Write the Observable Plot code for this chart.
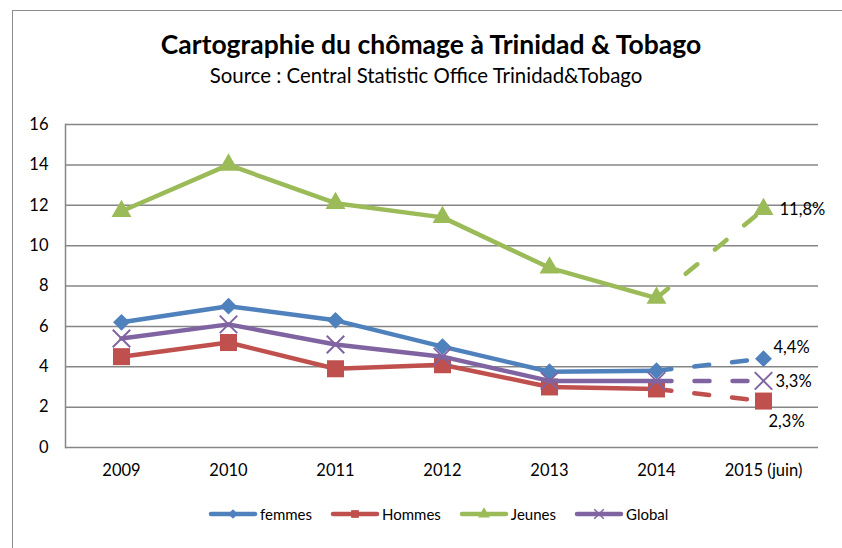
<!DOCTYPE html>
<html><head><meta charset="utf-8">
<script src="https://cdn.jsdelivr.net/npm/d3@7"></script>
<script src="https://cdn.jsdelivr.net/npm/@observablehq/plot@0.6"></script>
<style>
body{margin:0;background:#fff;font-family:Lato,"Open Sans",sans-serif;}
#wrap{position:relative;width:842px;height:548px;overflow:hidden;}
#frame{position:absolute;left:12px;top:10px;width:900px;height:600px;border:1.5px solid #8c8c8c;box-sizing:border-box;}
#title{position:absolute;left:0;width:862px;top:28px;text-align:center;font-weight:bold;font-size:26.5px;color:#000;line-height:32px;}
#sub{position:absolute;left:0;width:852px;top:62px;text-align:center;font-size:20.4px;color:#000;line-height:26px;}
#chart{position:absolute;left:0;top:100px;}
#legend{position:absolute;top:505px;left:208px;display:flex;align-items:center;font-size:15px;color:#000;}
#legend .it{display:flex;align-items:center;margin-right:18px;}
#legend svg{margin-right:2px;}
</style></head>
<body><div id="wrap">
<div id="frame"></div>
<div id="title">Cartographie du chômage à Trinidad &amp; Tobago</div>
<div id="sub">Source : Central Statistic Office Trinidad&amp;Tobago</div>
<div id="chart"></div>
<div id="legend"></div>
</div>
<script>
const years = ["2009","2010","2011","2012","2013","2014","2015 (juin)"];
const femmes = [6.2, 7.0, 6.3, 5.0, 3.75, 3.8, 4.4];
const hommes = [4.5, 5.2, 3.9, 4.1, 3.0, 2.9, 2.3];
const jeunes = [11.7, 14.0, 12.1, 11.4, 8.9, 7.4, 11.8];
const global = [5.4, 6.1, 5.1, 4.5, 3.3, 3.3, 3.3];
const seriesNames = ["femmes", "Hommes", "Jeunes", "Global"];
const yTicks = [0, 2, 4, 6, 8, 10, 12, 14, 16];

const seriesValues = [femmes, hommes, jeunes, global];
const colors = ["#4F81BD", "#C0504D", "#9BBB59", "#8064A2"];
const symbols = ["diamond2", "square", "triangle", "times"];
const radii = [7.6, 9.6, 7.4, 8];

const rows = seriesNames.flatMap((s, i) => years.map((y, j) => ({series: s, year: y, value: seriesValues[i][j], idx: j})));
const last = years.length - 1;
const fmt = v => v.toFixed(1).replace(".", ",") + "%";

const marks = [
  Plot.gridY(yTicks, {stroke: "#868686", strokeOpacity: 1, strokeWidth: 1.5}),
  Plot.frame({anchor: "left", stroke: "#868686", strokeWidth: 1.5}),
  Plot.axisY(yTicks, {tickSize: 0, tickPadding: 17, fontSize: 16.5, fill: "#000"}),
  Plot.axisX({tickSize: 0, tickPadding: 17, fontSize: 16.5, fill: "#000"})
];
seriesNames.forEach((s, i) => {
  const d = rows.filter(r => r.series === s);
  marks.push(Plot.lineY(d.filter(r => r.idx <= last - 1), {x: "year", y: "value", stroke: colors[i], strokeWidth: 4.5, strokeLinejoin: "round", strokeLinecap: "round"}));
  marks.push(Plot.lineY(d.filter(r => r.idx >= last - 1), {x: "year", y: "value", stroke: colors[i], strokeWidth: 4.5, strokeLinecap: "round", strokeDasharray: "15,23"}));
  const isStroke = symbols[i] === "times";
  marks.push(Plot.dot(d, {x: "year", y: "value", symbol: symbols[i], r: radii[i],
    fill: isStroke ? "none" : colors[i], stroke: colors[i], strokeWidth: isStroke ? 2 : 0}));
});
const labelOffsets = [[10, -11, "start"], [5, 21, "start"], [16, 0, "start"], [12, 1, "start"]];
seriesNames.forEach((s, i) => {
  const d = rows.filter(r => r.series === s && r.idx === last);
  marks.push(Plot.text(d, {x: "year", y: "value", text: r => fmt(r.value), dx: labelOffsets[i][0], dy: labelOffsets[i][1], textAnchor: labelOffsets[i][2], fontSize: 16.5, fill: "#000"}));
});

const chart = Plot.plot({
  width: 842, height: 390,
  marginLeft: 65, marginRight: 24, marginTop: 24, marginBottom: 43,
  style: {fontFamily: "Lato, 'Open Sans', sans-serif", background: "transparent", overflow: "visible"},
  x: {type: "point", domain: years, padding: 0.5, label: null},
  y: {domain: [0, 16], label: null},
  marks
});
document.getElementById("chart").appendChild(chart);

const legend = document.getElementById("legend");
seriesNames.forEach((s, i) => {
  const it = document.createElement("div"); it.className = "it";
  const sym = d3.symbol(d3["symbol" + symbols[i].charAt(0).toUpperCase() + symbols[i].slice(1)], 60)();
  const isStroke = symbols[i] === "times";
  it.innerHTML = `<svg width="50" height="16"><line x1="3" x2="47" y1="8" y2="8" stroke="${colors[i]}" stroke-width="4.5" stroke-linecap="round"/><path d="${sym}" transform="translate(25,8)" fill="${isStroke ? "none" : colors[i]}" stroke="${colors[i]}" stroke-width="${isStroke ? 1.5 : 0}"/></svg><span>${s}</span>`;
  legend.appendChild(it);
});
</script>
</body></html>
